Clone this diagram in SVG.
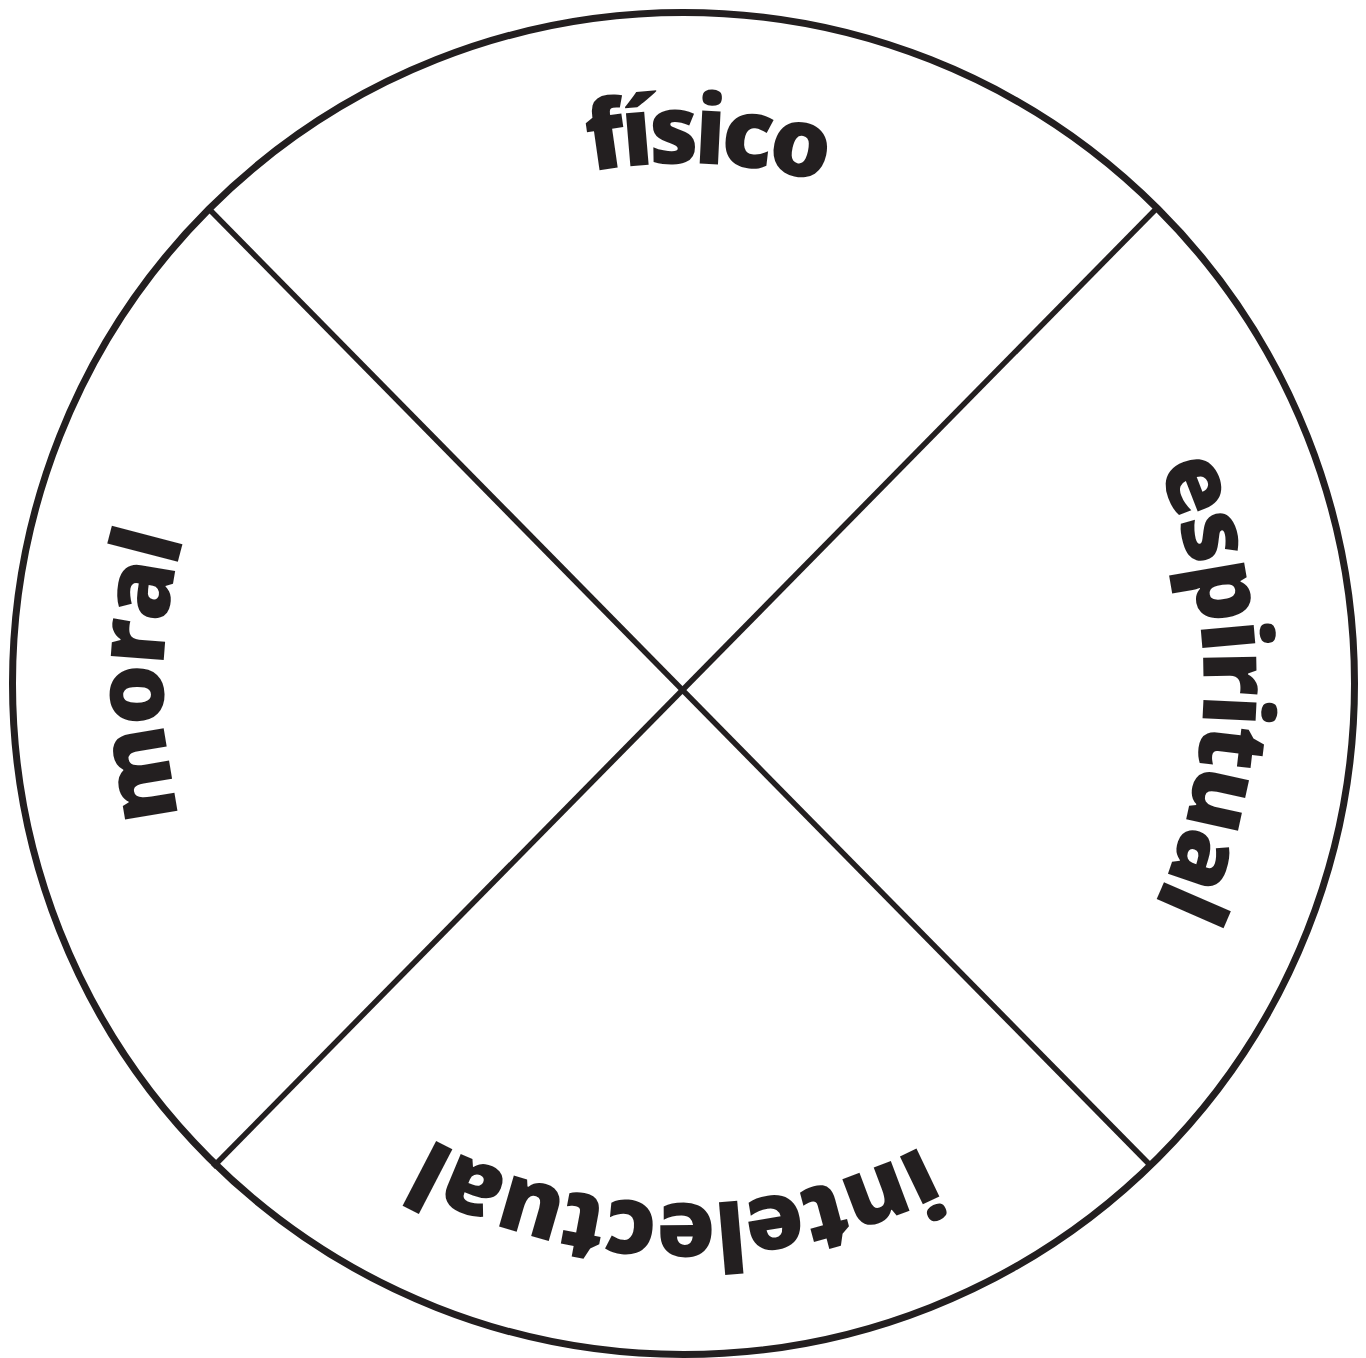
<svg xmlns="http://www.w3.org/2000/svg" xmlns:xlink="http://www.w3.org/1999/xlink" width="1366" height="1358" viewBox="0 0 1366 1358">
<style>
.ln{stroke:#231f20;fill:none}
.lbl{font-family:"Open Sans","Liberation Sans",sans-serif;font-weight:800;font-size:96px;fill:#231f20}
</style>
<defs>
<path id="arcTop" d="M 683.5 163.5 A 520 520 0 0 1 683.5 1203.5 A 520 520 0 0 1 683.5 163.5"/>
<path id="arcBot" d="M 683.5 1203.5 A 520 520 0 0 1 683.5 163.5 A 520 520 0 0 1 683.5 1203.5"/>
</defs>
<rect width="1366" height="1358" fill="#ffffff"/>
<g id="connectors">
<line class="ln" stroke-width="5.5" x1="210" y1="210" x2="1150" y2="1165"/>
<line class="ln" stroke-width="5.5" x1="1155" y1="210" x2="213" y2="1167"/>
</g>
<g id="circle">
<circle class="ln" stroke-width="7" cx="683.5" cy="683.5" r="671"/>
</g>
<g id="fisico">
<text class="lbl" text-anchor="middle"><textPath xlink:href="#arcBot" href="#arcBot" startOffset="50.75%" textLength="236" lengthAdjust="spacing">físico</textPath></text>
</g>
<g id="espiritual">
<text class="lbl" text-anchor="middle"><textPath xlink:href="#arcBot" href="#arcBot" startOffset="75.1%" textLength="451" lengthAdjust="spacing">espiritual</textPath></text>
</g>
<g id="intelectual">
<text class="lbl" text-anchor="middle"><textPath xlink:href="#arcTop" href="#arcTop" startOffset="50.25%" textLength="512" lengthAdjust="spacing">intelectual</textPath></text>
</g>
<g id="moral">
<text class="lbl" text-anchor="middle"><textPath xlink:href="#arcBot" href="#arcBot" startOffset="25.2%" textLength="282" lengthAdjust="spacing">moral</textPath></text>
</g>
</svg>
